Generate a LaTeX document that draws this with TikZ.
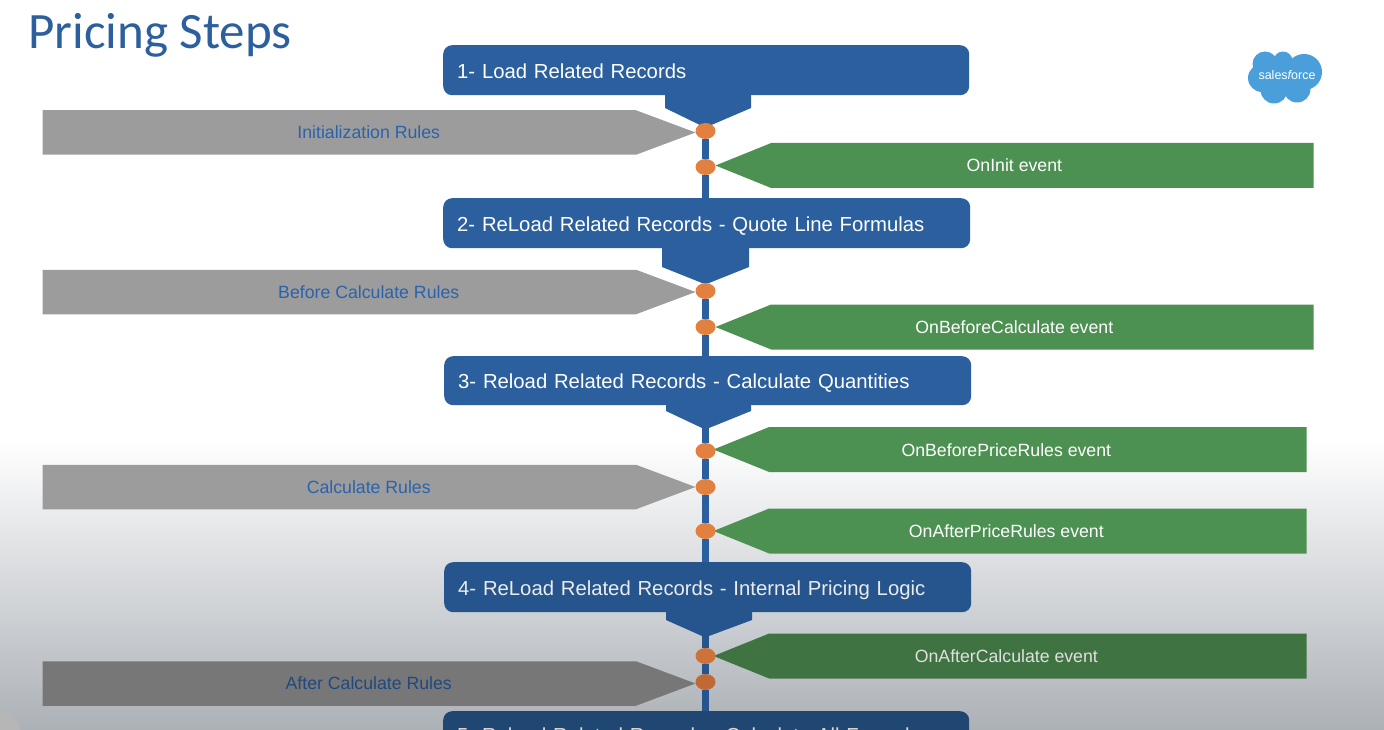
\documentclass[tikz,border=0pt]{standalone}
\usepackage{fontspec}
\setmainfont{Liberation Sans}
\newfontfamily\titlefont{Carlito}
\usetikzlibrary{positioning,backgrounds,shapes.geometric,shapes.symbols}
\definecolor{StepBlue}{HTML}{2B5F9E}
\definecolor{StepBlueDim}{HTML}{25558C}
\definecolor{StepBlueDark}{HTML}{1F4772}
\definecolor{RuleGray}{HTML}{9C9C9C}
\definecolor{RuleGrayDark}{HTML}{777777}
\definecolor{EventGreen}{HTML}{4C9152}
\definecolor{EventGreenDark}{HTML}{3F7342}
\definecolor{DotOrange}{HTML}{E2803F}
\definecolor{DotOrangeDark}{HTML}{BF6A35}
\definecolor{RuleText}{HTML}{2B62AC}
\definecolor{SheetGray}{HTML}{ACB1B7}
\definecolor{CornerGray}{HTML}{B6B6B6}
\definecolor{LogoBlue}{HTML}{4A9FDB}

\begin{document}
\begin{tikzpicture}[
  x=1pt,y=-1pt,
  stepbox/.style={fill=StepBlue,rounded corners=9pt,anchor=north west,minimum height=50pt,
    inner xsep=14pt,inner ysep=0pt,text width=498pt,text height=20pt,text depth=4pt,align=left,text=white,font=\fontsize{20.3}{24}\selectfont},
  dot/.style={ellipse,fill=DotOrange,minimum width=20pt,minimum height=16pt,inner sep=0pt,outer sep=0pt},
  rulearrow/.style={signal,signal to=east,signal from=nowhere,signal pointer angle=41,fill=RuleGray,
    minimum width=653pt,minimum height=44.5pt,inner sep=0pt,outer sep=0pt,text=RuleText,text height=16pt,text depth=4pt,
    font=\fontsize{17.7}{21}\selectfont,execute at begin node=\hspace*{59pt}},
  eventarrow/.style={signal,signal to=west,signal from=nowhere,signal pointer angle=44,fill=EventGreen,
    minimum width=598pt,minimum height=45pt,inner sep=0pt,outer sep=0pt,text=white,text height=17pt,text depth=4pt,
    font=\fontsize{17.7}{21}\selectfont,execute at end node=\hspace*{56pt}},
  eventshort/.style={eventarrow,minimum width=593pt,execute at end node=\hspace*{7pt}},
  spine/.style={draw=StepBlue,line width=7pt}
]
  \useasboundingbox (0,0) rectangle (1384,730);

  \begin{scope}[on background layer]
    \fill[white] (0,0) rectangle (1384,440);
    \fill[top color=white,bottom color=SheetGray,draw=none] (0,440) rectangle (1384,730);
    \fill[CornerGray] (0,712) arc (90:0:20pt) -- (0,730) -- cycle;
  \end{scope}

  \node[anchor=base west,inner sep=0pt,text=StepBlue,font=\titlefont\fontsize{51}{55}\selectfont] (title) at (28,49) {Pricing Steps};

  % salesforce logo
  \foreach \cx/\cy/\r in {1265/64/12.5,1283/61/9.5,1304/72/18,1297/89/13.5,1274/90/13.5,1262/78/14,1283/76/16}
    \fill[LogoBlue] (\cx,\cy) circle (\r pt);
  \node[inner sep=0pt,text=white,font=\fontsize{12.5}{14}\selectfont] (logo) at (1287,75.5) {sales{\itshape f}orce};

  \node[stepbox] (load) at (443,45) {1- Load Related Records};
  \node[stepbox,text width=499pt] (quote) at (443,198) {2- ReLoad Related Records - Quote Line Formulas};
  \node[stepbox,minimum height=49pt,text width=499pt] (quantities) at (444,356) {3- Reload Related Records - Calculate Quantities};
  \node[stepbox,fill=StepBlueDim,text width=499pt,text=white!92!black] (pricing) at (444,562) {4- ReLoad Related Records - Internal Pricing Logic};
  \begin{scope}
    \clip (0,0) rectangle (1384,730);
    \node[stepbox,fill=StepBlueDark,text=white!85!black,text height=16pt] (formulas) at (443,711) {5- Reload Related Records - Calculate All Formulas};
  \end{scope}

  \node[dot] (init) at (705.5,131) {};
  \node[dot] (oninit) at (705.5,167) {};
  \node[dot] (before) at (705.5,291) {};
  \node[dot] (onbefore) at (705.5,327) {};
  \node[dot] (onprice) at (705.5,451) {};
  \node[dot] (calc) at (705.5,487) {};
  \node[dot] (onafterprice) at (705.5,531) {};
  \node[dot,fill=DotOrangeDark!60!DotOrange] (onafter) at (705.5,656) {};
  \node[dot,fill=DotOrangeDark] (after) at (705.5,682) {};

  \coordinate (tipload) at (705.5,126);
  \coordinate (tipquote) at (705.5,283);
  \coordinate (tipquant) at (705.5,428);
  \coordinate (tippricing) at (705.5,636);

  \begin{scope}[on background layer]
    \draw[spine] (tipload) -- (init) -- (oninit) -- (oninit |- quote.north);
    \draw[spine] (tipquote) -- (before) -- (onbefore) -- (onbefore |- quantities.north);
    \draw[spine] (tipquant) -- (onprice) -- (calc) -- (onafterprice) -- (onafterprice |- pricing.north);
    \draw[spine,draw=StepBlueDim] (tippricing) -- (onafter) -- (after) -- (after |- formulas.north);

    \foreach \a/\b/\c/\y/\t/\col in {
      load/665/751/108/126/StepBlue,quote/662/749/267/283/StepBlue,
      quantities/666/751/411/428/StepBlue,pricing/666/752/620/636/StepBlueDim}
      \fill[\col] ([yshift=2pt]\b,0 |- \a.south) -- (\b,\y) -- (702,\t) -- (709,\t) -- (\c,\y) -- ([yshift=2pt]\c,0 |- \a.south) -- cycle;

    \node[rulearrow,left=0pt of init,yshift=-1.5pt] (initrules) {Initialization Rules};
    \node[rulearrow,left=0pt of before,yshift=-1pt] (beforerules) {Before Calculate Rules};
    \node[rulearrow,left=0pt of calc] (calcrules) {Calculate Rules};
    \node[rulearrow,fill=RuleGrayDark,text=RuleText!75!black,left=0pt of after,yshift=-1.5pt] (afterrules) {After Calculate Rules};

    \node[eventarrow,right=0pt of oninit,yshift=1.5pt] (oninitevent) {OnInit event};
    \node[eventarrow,right=0pt of onbefore] (onbeforeevent) {OnBeforeCalculate event};
    \node[eventshort,right=-2pt of onprice,yshift=1.5pt] (onpriceevent) {OnBeforePriceRules event};
    \node[eventshort,right=-2pt of onafterprice] (onafterpriceevent) {OnAfterPriceRules event};
    \node[eventshort,fill=EventGreenDark,text=white!88!black,right=-2pt of onafter] (onafterevent) {OnAfterCalculate event};
  \end{scope}
\end{tikzpicture}
\end{document}
